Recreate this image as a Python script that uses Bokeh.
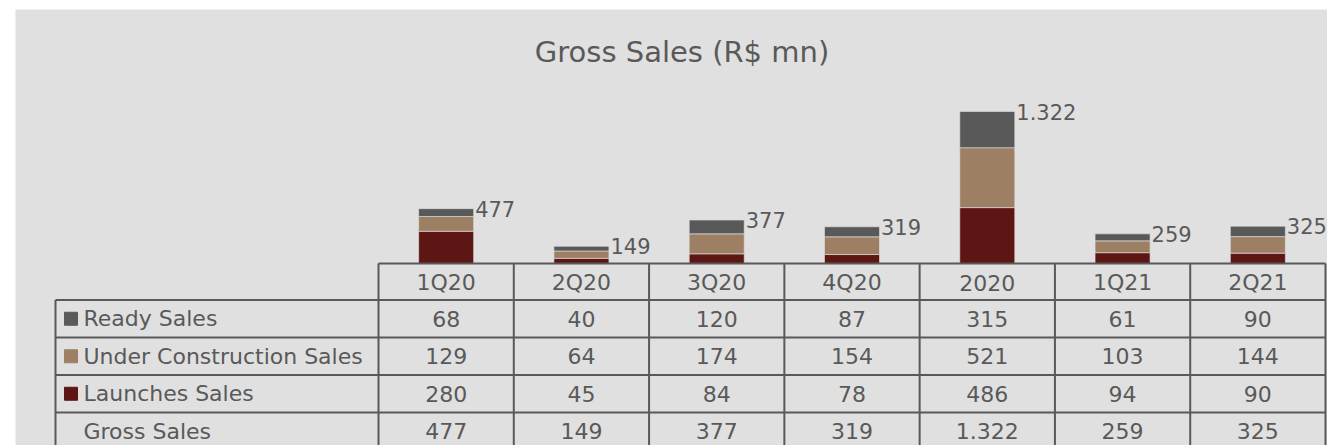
from bokeh.plotting import figure
from bokeh.models import Range1d, ColumnDataSource
from bokeh.embed import file_html
from bokeh.resources import INLINE
from bokeh.core.properties import value

# ---------------- data ----------------
periods = ["1Q20", "2Q20", "3Q20", "4Q20", "2020", "1Q21", "2Q21"]
ready_sales = [68, 40, 120, 87, 315, 61, 90]
under_construction_sales = [129, 64, 174, 154, 521, 103, 144]
launches_sales = [280, 45, 84, 78, 486, 94, 90]
gross_sales = [477, 149, 377, 319, 1322, 259, 325]
row_labels = ["Ready Sales", "Under Construction Sales", "Launches Sales", "Gross Sales"]
title_text = "Gross Sales (R$ mn)"

# ---------------- style ----------------
C_READY = "#595959"
C_UNDER = "#9d8063"
C_LAUNCH = "#5e1614"
TXT = "#595959"
GRID = "#595959"
BG = "#e0e0e0"
FONT = value("DejaVu Sans")


def fmt(v):
    return f"{v:,}".replace(",", ".")


# ---------------- layout (screen px) ----------------
W, H = 1327, 445
FL, FT = 15, 9            # frame left / top
FR, FB = W, H             # frame right / bottom
TL = 55                   # table left edge
C0 = 378                  # first data column left edge
CW = (1325 - 378) / 7     # column width
BASE = 263                # bar baseline / table top
ROWS = [263, 299.5, 337, 374.5, 412, 449.5]
UPP = 1322 / 152          # data units per pixel (vertical)
BAR_W = 55 / CW

p = figure(width=W, height=H, output_backend="svg", toolbar_location=None,
           x_range=Range1d((FL - C0) / CW, (FR - C0) / CW),
           y_range=Range1d(-(FB - BASE) * UPP, (BASE - FT) * UPP),
           x_axis_type=None, y_axis_type=None,
           min_border_left=FL, min_border_top=FT, min_border_right=0, min_border_bottom=0)
p.title.visible = False
p.grid.visible = False
p.outline_line_color = None
p.background_fill_color = BG
p.border_fill_color = "white"
p.extra_x_ranges = {"px": Range1d(FL, FR)}
p.extra_y_ranges = {"px": Range1d(FB, FT)}

n = len(periods)
xs = [i + 0.5 for i in range(n)]

src = ColumnDataSource(dict(x=xs, launches=launches_sales,
                            under=under_construction_sales, ready=ready_sales))
p.vbar_stack(["launches", "under", "ready"], x="x", width=BAR_W,
             color=[C_LAUNCH, C_UNDER, C_READY], line_color=BG, line_width=0.6,
             source=src)

# data labels
p.text(x=[x + BAR_W / 2 + 1.5 / CW for x in xs], y=gross_sales,
       text=[fmt(g) for g in gross_sales], text_align="left", text_baseline="middle",
       text_font=FONT, text_font_size="21px", text_color=TXT)

# title
p.text(x=[681.5], y=[51], text=[title_text], x_range_name="px", y_range_name="px",
       text_align="center", text_baseline="middle", text_font=FONT,
       text_font_size="29px", text_color=TXT)

# table grid
x0, y0, x1, y1 = [], [], [], []
right = C0 + n * CW
x0.append(C0); y0.append(ROWS[0]); x1.append(right); y1.append(ROWS[0])
for r in ROWS[1:5]:
    x0.append(TL); y0.append(r); x1.append(right); y1.append(r)
x0.append(TL); y0.append(ROWS[1]); x1.append(TL); y1.append(FB + 10)
for i in range(n + 1):
    xx = C0 + i * CW
    x0.append(xx); y0.append(ROWS[0]); x1.append(xx); y1.append(FB + 10)
p.segment(x0=x0, y0=y0, x1=x1, y1=y1, x_range_name="px", y_range_name="px",
          line_color=GRID, line_width=2)

centers = [(ROWS[k] + ROWS[k + 1]) / 2 for k in range(len(ROWS) - 1)]

# header
p.text(x=xs, y=[centers[0] + 1] * n, text=periods, y_range_name="px",
       text_align="center", text_baseline="middle", text_font=FONT,
       text_font_size="22px", text_color=TXT)

# cells
table_rows = [ready_sales, under_construction_sales, launches_sales, gross_sales]
for k, vals in enumerate(table_rows):
    p.text(x=xs, y=[centers[k + 1]] * n, text=[fmt(v) for v in vals], y_range_name="px",
           text_align="center", text_baseline="middle", text_font=FONT,
           text_font_size="22px", text_color=TXT)

# row labels
p.text(x=[83] * 4, y=centers[1:5], text=row_labels, x_range_name="px", y_range_name="px",
       text_align="left", text_baseline="middle", text_font=FONT,
       text_font_size="22px", text_color=TXT)

# legend keys
p.rect(x=[70.5] * 3, y=centers[1:4], width=13, height=13,
       color=[C_READY, C_UNDER, C_LAUNCH], x_range_name="px", y_range_name="px")

open("out.html", "w").write(file_html(p, INLINE))
